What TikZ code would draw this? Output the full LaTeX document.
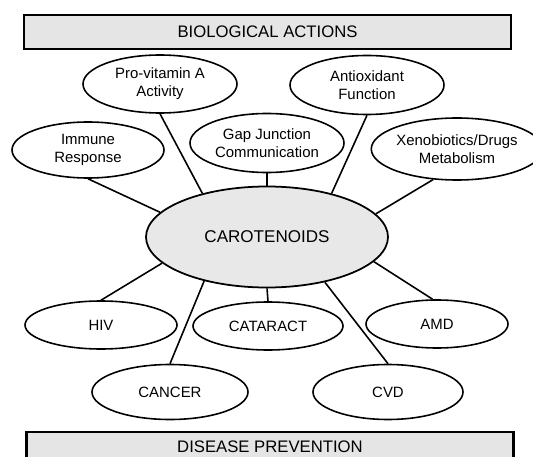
\documentclass[tikz,border=0pt]{standalone}
\usepackage{fontspec}
\setmainfont{Liberation Sans}
\usetikzlibrary{shapes.geometric}

\begin{document}
\begin{tikzpicture}[
    topic/.style={draw, line width=0.9pt, ellipse, inner sep=0pt, align=center,
      font=\fontsize{8.5}{10.3}\selectfont},
    hub/.style={draw, line width=1pt, ellipse, fill=gray!18, inner sep=0pt,
      minimum width=4.84cm, minimum height=2.02cm, font=\fontsize{9.7}{11}\selectfont},
    banner/.style={draw, line width=1.3pt, fill=gray!20, inner sep=0pt,
      minimum width=9.74cm, font=\fontsize{9.5}{11}\selectfont},
    link/.style={line width=0.9pt}
  ]
      \useasboundingbox (0, 0) rectangle (10.66, 9.12);

      \node[banner, minimum height=0.68cm] (bio) at(5.35, 8.48){BIOLOGICAL ACTIONS};
      \node[banner, minimum height=0.60cm] (dis) at(5.40, 0.18){DISEASE PREVENTION};

      \node[hub] (car) at(5.34, 4.38){CAROTENOIDS};

      \node[topic, minimum width=3.08cm, minimum height=1.16cm] (pro) at(3.20, 7.44){Pro-vitamin A\\Activity};
      \node[topic, minimum width=3.08cm, minimum height=1.18cm] (anti) at(7.34, 7.42){Antioxidant\\Function};
      \node[topic, minimum width=3.04cm, minimum height=1.12cm] (imm) at(1.76, 6.12){Immune\\Response};
      \node[topic, minimum width=3.08cm, minimum height=1.18cm] (gap) at(5.34, 6.26){Gap Junction\\Communication};
      \node[topic, minimum width=3.34cm, minimum height=1.24cm] (xen) at(9.14, 6.14){Xenobiotics/Drugs\\Metabolism};

      \node[topic, minimum width=3.04cm, minimum height=0.96cm] (hiv) at(2.02, 2.62){HIV};
      \node[topic, minimum width=3.00cm, minimum height=0.96cm] (cat) at(5.36, 2.60){CATARACT};
      \node[topic, minimum width=2.84cm, minimum height=0.96cm] (amd) at(8.74, 2.64){AMD};
      \node[topic, minimum width=3.12cm, minimum height=1.10cm] (can) at(3.40, 1.28){CANCER};
      \node[topic, minimum width=3.00cm, minimum height=1.10cm] (cvd) at(7.76, 1.28){CVD};

      \draw[link] (pro.south) -- (car.146);
      \draw[link] (anti.south) -- (car.34);
      \draw[link] (gap.south) -- (car.north);
      \draw[link] (imm.south) -- (car.167);
      \draw[link] (xen.232) -- (car.12);

      \draw[link] (car.194) -- (hiv.north);
      \draw[link] (car.south) -- (cat.north);
      \draw[link] (car.347) -- (amd.100);
      \draw[link] (car.215) -- (can.north);
      \draw[link] (car.322) -- (cvd.north);
\end{tikzpicture}
\end{document}
